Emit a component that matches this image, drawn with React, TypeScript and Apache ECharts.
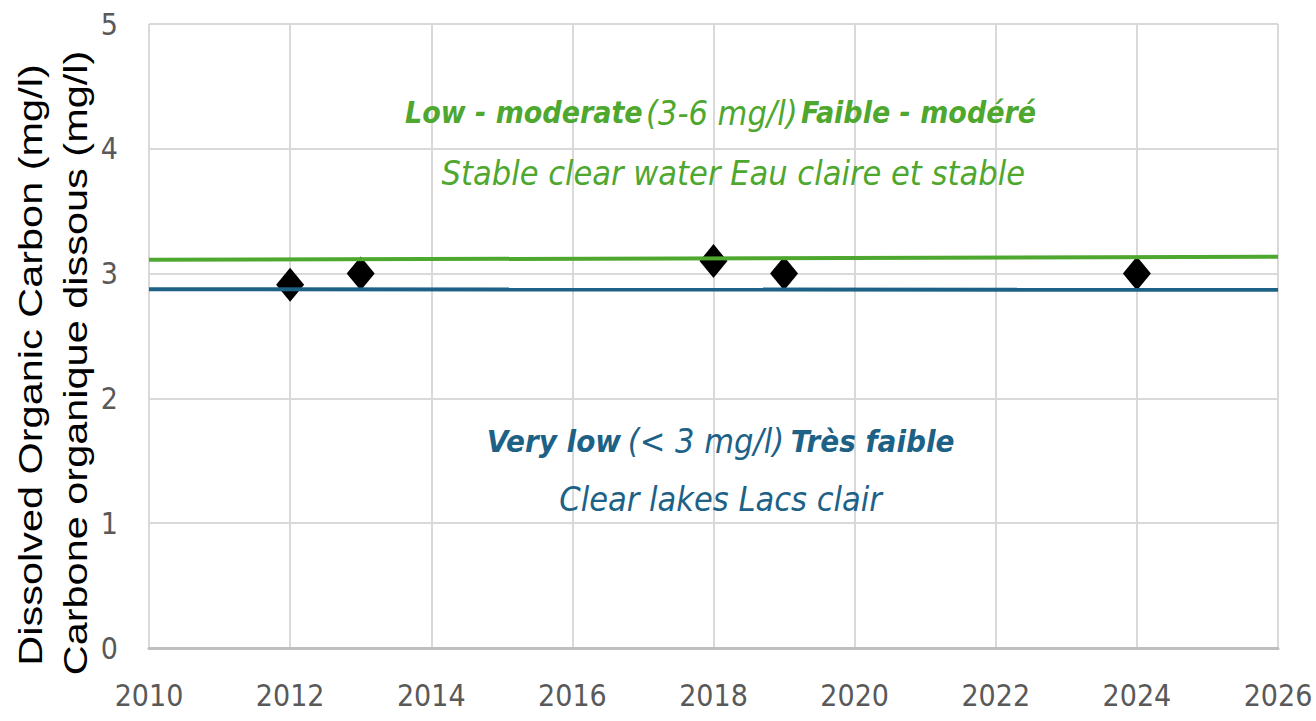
import React, { useEffect, useRef } from "react";
import * as echarts from "echarts";

const years = [2012, 2013, 2018, 2019, 2024];
const docValues = [2.91, 3.0, 3.1, 3.0, 3.0];
const lowModerateLine = [[2010, 3.11], [2026, 3.135]];
const veryLowLine = [[2010, 2.875], [2026, 2.87]];
const xTicks = { min: 2010, max: 2026, interval: 2 };
const yTicks = { min: 0, max: 5, interval: 1 };
const yTitle = ["Dissolved Organic Carbon (mg/l)", "Carbone organique dissous (mg/l)"];

const GREEN = "#4ea72e";
const BLUE = "#1d6286";
const NARROW = "'DejaVu Sans Condensed', 'Liberation Sans Narrow', sans-serif";

export default function App() {
  const ref = useRef<HTMLDivElement>(null);
  useEffect(() => {
    const chart = echarts.init(ref.current!, null, { renderer: "svg" });
    const labelItem = (value: number[], label: any) => ({
      value,
      symbol: "rect",
      symbolSize: 1,
      itemStyle: { color: "rgba(255,255,255,0)", opacity: 1 },
      label: { show: true, position: "inside", opacity: 1, ...label },
    });
    chart.setOption({
      animation: false,
      backgroundColor: "#ffffff",
      grid: { left: 149, right: 38, top: 24, bottom: 73, containLabel: false },
      xAxis: {
        type: "value",
        min: xTicks.min,
        max: xTicks.max,
        interval: xTicks.interval,
        axisLine: { show: true, lineStyle: { color: "#bfbfbf", width: 3 } },
        axisTick: { show: false },
        splitLine: { show: true, lineStyle: { color: "#d9d9d9", width: 2 } },
        axisLabel: {
          color: "#595959",
          fontSize: 30,
          fontFamily: NARROW,
          margin: 32,
          formatter: (v: number) => String(v),
        },
      },
      yAxis: {
        type: "value",
        min: yTicks.min,
        max: yTicks.max,
        interval: yTicks.interval,
        axisLine: { show: false },
        axisTick: { show: false },
        splitLine: { show: true, lineStyle: { color: "#d9d9d9", width: 2 } },
        axisLabel: { color: "#595959", fontSize: 30, fontFamily: NARROW, margin: 31 },
      },
      graphic: [
        {
          type: "text",
          x: 30,
          y: 365,
          rotation: Math.PI / 2,
          scaleX: 1.22,
          style: {
            text: yTitle[0],
            font: "34px 'Liberation Sans', Arial, sans-serif",
            fill: "#000000",
            align: "center",
            verticalAlign: "middle",
          },
        },
        {
          type: "text",
          x: 75,
          y: 363,
          rotation: Math.PI / 2,
          scaleX: 1.22,
          style: {
            text: yTitle[1],
            font: "34px 'Liberation Sans', Arial, sans-serif",
            fill: "#000000",
            align: "center",
            verticalAlign: "middle",
          },
        },
      ],
      series: [
        {
          type: "scatter",
          name: "DOC",
          data: years.map((y, i) => [y, docValues[i]]),
          symbol: "diamond",
          symbolSize: [28, 34],
          itemStyle: { color: "#000000", opacity: 1 },
          z: 2,
        },
        {
          type: "line",
          name: "Low-moderate",
          data: lowModerateLine,
          symbol: "none",
          lineStyle: { color: GREEN, width: 4 },
          z: 3,
        },
        {
          type: "line",
          name: "Very low",
          data: veryLowLine,
          symbol: "none",
          lineStyle: { color: BLUE, width: 4 },
          z: 3,
        },
        {
          type: "scatter",
          name: "labels",
          silent: true,
          z: 4,
          itemStyle: { opacity: 1 },
          data: [
            labelItem([2018.1, 4.29], {
              formatter: "{b|Low - moderate} {n|(3-6 mg/l)} {b|Faible - modéré}",
              rich: {
                b: { fontFamily: NARROW, fontStyle: "italic", fontWeight: "bold", fontSize: 30, color: GREEN },
                n: { fontFamily: NARROW, fontStyle: "italic", fontSize: 34, color: GREEN },
              },
            }),
            labelItem([2018.28, 3.81], {
              formatter: "Stable clear water Eau claire et stable",
              fontFamily: NARROW,
              fontStyle: "italic",
              fontSize: 34,
              color: GREEN,
            }),
            labelItem([2018.1, 1.66], {
              formatter: "{b|Very low}  {n|(< 3 mg/l)}  {b|Très faible}",
              rich: {
                b: { fontFamily: NARROW, fontStyle: "italic", fontWeight: "bold", fontSize: 31, color: BLUE },
                n: { fontFamily: NARROW, fontStyle: "italic", fontSize: 34, color: BLUE },
              },
            }),
            labelItem([2018.1, 1.19], {
              formatter: "Clear lakes Lacs clair",
              fontFamily: NARROW,
              fontStyle: "italic",
              fontSize: 34,
              color: BLUE,
            }),
          ],
        },
      ],
    });
    return () => chart.dispose();
  }, []);
  return (
    <div
      ref={ref}
      style={{ position: "absolute", left: 0, top: 0, width: 1316, height: 721 }}
    />
  );
}
